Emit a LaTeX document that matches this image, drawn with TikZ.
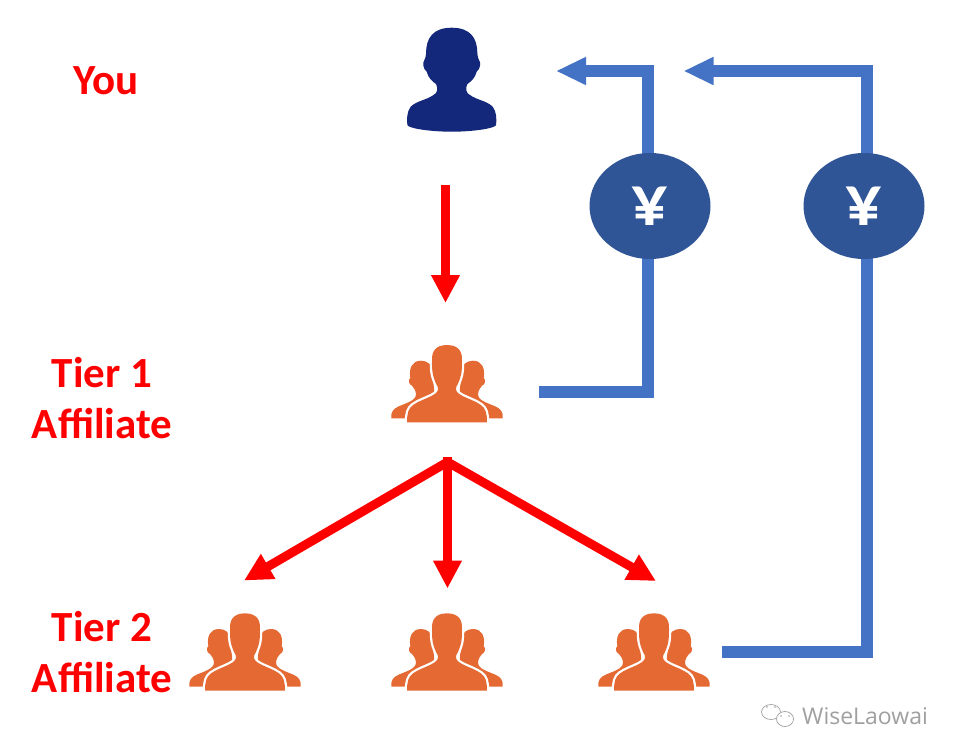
\documentclass[tikz,border=0pt]{standalone}
\usepackage{fontspec}
\setmainfont{Carlito}
\newfontfamily\wmfont{Open Sans}
\usetikzlibrary{arrows.meta,shapes.geometric,calc}
\definecolor{navy}{HTML}{13277B}
\definecolor{orangeicon}{HTML}{E56932}
\definecolor{bluelink}{HTML}{4472C4}
\definecolor{bluecoin}{HTML}{2F5597}
\definecolor{redlink}{HTML}{FF0000}
\definecolor{wmgray}{HTML}{A0A0A0}
\newcommand{\sidefigure}{%
  \fill[orangeicon] (122,77) .. controls (140,77) and (152,88) .. (155,100) -- (170,250)
      -- (33,250) -- (33,238) .. controls (36,222) and (50,215) .. (70,208)
      .. controls (90,200) and (108,192) .. (107,178)
      .. controls (106,165) and (100,158) .. (95,152)
      .. controls (85,148) and (83,135) .. (90,128)
      .. controls (85,100) and (95,77) .. (122,77) -- cycle;
}
\newcommand{\centrefigure}{
      (200,30) .. controls (235,30) and (246,50) .. (245,75)
      .. controls (245,95) and (245,105) .. (242,120)
      .. controls (238,135) and (233,147) .. (228,155)
      .. controls (224,167) and (230,174) .. (247,183)
      .. controls (265,192) and (285,198) .. (302,210)
      .. controls (316,220) and (320,235) .. (320,262)
      -- (80,262)
      .. controls (80,235) and (84,220) .. (98,210)
      .. controls (115,198) and (135,192) .. (153,183)
      .. controls (170,174) and (176,167) .. (172,155)
      .. controls (167,147) and (162,135) .. (158,120)
      .. controls (155,105) and (155,95) .. (155,75)
      .. controls (154,50) and (165,30) .. (200,30) -- cycle}
\tikzset{
  tierlabel/.style={text=redlink,font=\bfseries\fontsize{43}{51}\selectfont,align=center,inner sep=0pt},
  redarrow/.style={draw=redlink,line width=9pt,-{Triangle[length=28pt,width=27pt,fill=redlink]}},
  bluearrow/.style={draw=bluelink,line width=12pt,-{Triangle[length=30pt,width=26pt,fill=bluelink]}},
  coin/.style={ellipse,fill=bluecoin,minimum width=121pt,minimum height=106pt,inner sep=0pt,text=white,font=\bfseries\fontsize{72}{72}\selectfont},
  iconbox/.style={minimum width=112pt,minimum height=78pt,inner sep=0pt},
  personbox/.style={minimum width=90pt,minimum height=104pt,inner sep=0pt},
  person/.pic={
    \begin{scope}[x=.3333pt,y=-.3333pt,shift={(-215,-209)}]
    \fill[navy] (215,53) .. controls (272,53) and (292,85) .. (292,130)
      .. controls (293,140) and (295,148) .. (297,150)
      .. controls (303,158) and (302,175) .. (290,185)
      .. controls (285,205) and (272,215) .. (262,222)
      .. controls (255,235) and (258,250) .. (270,255)
      .. controls (290,270) and (320,272) .. (338,290)
      .. controls (350,305) and (350,330) .. (348,345)
      .. controls (345,355) and (280,365) .. (215,365)
      .. controls (150,365) and (85,355) .. (82,345)
      .. controls (80,330) and (80,305) .. (92,290)
      .. controls (110,272) and (140,270) .. (160,255)
      .. controls (172,250) and (175,235) .. (168,222)
      .. controls (158,215) and (145,205) .. (140,185)
      .. controls (128,175) and (127,158) .. (133,150)
      .. controls (135,148) and (137,140) .. (138,130)
      .. controls (138,85) and (158,53) .. (215,53) -- cycle;
    \end{scope}
  },
  crowd/.pic={
    \begin{scope}[x=.3333pt,y=-.3333pt,shift={(-200,-146)}]
    \sidefigure
    \begin{scope}[shift={(400,0)},xscale=-1]\sidefigure\end{scope}
    \draw[white,line width=4.5pt] \centrefigure;
    \fill[orangeicon] \centrefigure;
    \end{scope}
  }
}
\begin{document}
\begin{tikzpicture}[x=1pt,y=-1pt]
\useasboundingbox[fill=white] (0,0) rectangle (958,755);
% icons
\node[personbox] (you) at (451.7,79.7) {};
\pic at (you.center) {person};
\node[iconbox] (tierone) at (447,383.7) {};
\pic at (tierone.center) {crowd};
\node[iconbox] (tl) at (245,652) {};
\pic at (tl.center) {crowd};
\node[iconbox] (tm) at (447,652) {};
\pic at (tm.center) {crowd};
\node[iconbox] (tr) at (654,652) {};
\pic at (tr.center) {crowd};
% labels
\node[tierlabel] (lyou) at (106,81) {You};
\node[tierlabel] (lone) at (102,398) {Tier 1\\Affiliate};
\node[tierlabel] (ltwo) at (102,652) {Tier 2\\Affiliate};
% red arrows
\coordinate (youfoot) at (445.5,185);
\coordinate (onehead) at (445.5,303);
\coordinate (fork) at (447.5,457);
\coordinate (forklow) at (447.5,462);
\coordinate (tlhead) at (244,580.5);
\coordinate (tmhead) at (447.5,588.5);
\coordinate (trhead) at (656,581);
\draw[redarrow] (youfoot) -- (onehead);
\draw[redarrow] (forklow) -- (tlhead);
\draw[redarrow] (forklow) -- (trhead);
\draw[redarrow] (fork) -- (tmhead);
% blue links
\coordinate (aone) at (539,392);
\coordinate (bone) at (648,392);
\coordinate (cone) at (648,71);
\coordinate (done) at (556,71);
\coordinate (atwo) at (722,652);
\coordinate (btwo) at (867,652);
\coordinate (ctwo) at (867,71);
\coordinate (dtwo) at (683.5,71);
\draw[bluearrow,line join=miter] (aone) -- (bone) -- (cone) -- (done);
\draw[bluearrow,line join=miter] (atwo) -- (btwo) -- (ctwo) -- (dtwo);
\node[coin] (cointwo) at (864,206) {¥};
\node[coin] (coinone) at (650,206) {¥};
% watermark
\node[text=wmgray,font=\wmfont\fontsize{23}{23}\selectfont,inner sep=0pt,anchor=west] (wm) at (802,716) {WiseLaowai};
\node[ellipse,draw=wmgray,line width=.7pt,minimum width=19pt,minimum height=15pt,inner sep=0pt] (bubbleA) at (771,712) {};
\node[ellipse,draw=wmgray,fill=white,line width=.7pt,minimum width=17pt,minimum height=15pt,inner sep=0pt] (bubbleB) at (785,719) {};
\fill[wmgray] (767,707) circle (.9pt) (775,707) circle (.9pt) (781,716) circle (.8pt) (789,716) circle (.8pt);
\end{tikzpicture}
\end{document}
